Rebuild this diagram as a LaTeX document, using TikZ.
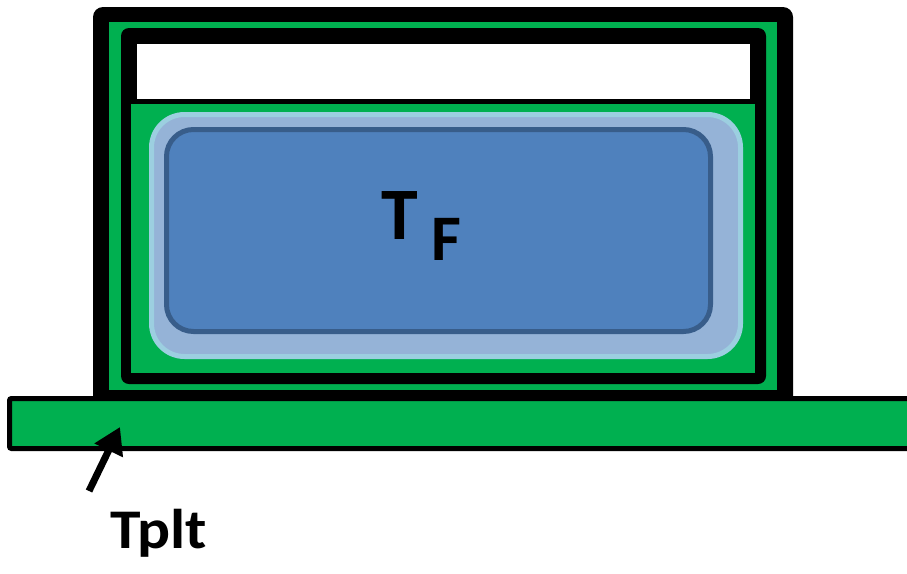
\documentclass[tikz,border=0pt]{standalone}
\usepackage{fontspec}
\usepackage{graphicx}
\setmainfont{Carlito}
\usetikzlibrary{arrows.meta}

\definecolor{boxgreen}{HTML}{00B050}
\definecolor{fluidpale}{HTML}{95B3D7}
\definecolor{fluidrim}{HTML}{9CCFE0}
\definecolor{fluidblue}{HTML}{4F81BD}
\definecolor{fluidedge}{HTML}{385D8A}

\tikzset{
  label/.style={inner sep=0pt, outer sep=0pt, anchor=base west, font=\bfseries},
}

\begin{document}
\begin{tikzpicture}[x=1pt,y=-1pt]
  \useasboundingbox (0,0) rectangle (907,573);

  % outer enclosure: black shell (rounded on top only), green gap
  \fill[black] (93,420) -- (93,17) arc[start angle=180, end angle=90, radius=10pt]
    -- (783,7) arc[start angle=90, end angle=0, radius=10pt] -- (793,420) -- cycle;
  \fill[boxgreen] (109,22) rectangle (777,390);

  % inner vessel: black wall, white headspace, green interior
  \fill[black, rounded corners=8pt] (121,28) rectangle (766,384);
  \fill[white] (137,44) rectangle (750,99);
  \fill[boxgreen] (131,104) rectangle (755,373);

  % fluid: pale halo and core
  \draw[fluidrim, fill=fluidpale, line width=5pt, rounded corners=33pt]
    (151.5,114.5) rectangle (740.5,356.5);
  \draw[fluidedge, fill=fluidblue, line width=5pt, rounded corners=27pt]
    (166.5,129.5) rectangle (710.5,331.5);

  % plate under the enclosure
  \draw[black, fill=boxgreen, line width=5pt, rounded corners=2pt]
    (9.5,398.5) rectangle (940,448.5);

  % fluid temperature
  \node[label, font=\bfseries\fontsize{74}{74}\selectfont] (tf) at (381,239) {T};
  \node[label, font=\bfseries\fontsize{65}{65}\selectfont] (tfsub) at (431,260) {F};

  % plate temperature with pointer
  \node[label, font=\bfseries\fontsize{56}{56}\selectfont] (tplt) at (110,548)
    {\scalebox{1.1}[1]{Tplt}};
  \coordinate (tail) at (89,491);
  \coordinate (tip) at (120,427);
  \draw[line width=7pt, -{Triangle[length=26pt,width=30pt]}] (tail) -- (tip);
\end{tikzpicture}
\end{document}
